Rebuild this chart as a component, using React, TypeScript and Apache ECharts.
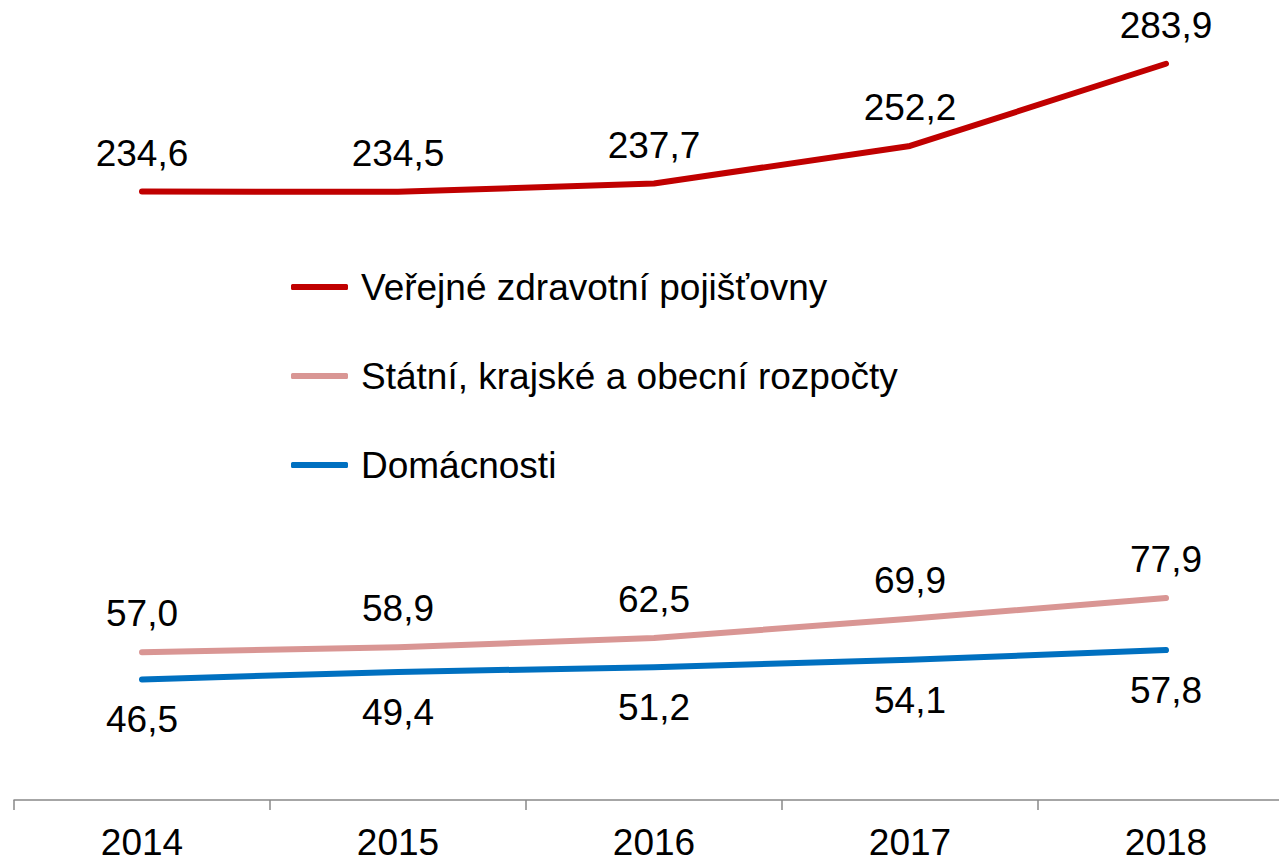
import React, { useEffect, useRef } from "react";
import * as echarts from "echarts";

const categories = ["2014", "2015", "2016", "2017", "2018"];
const seriesNames = [
  "Veřejné zdravotní pojišťovny",
  "Státní, krajské a obecní rozpočty",
  "Domácnosti",
];
const insurance = [234.6, 234.5, 237.7, 252.2, 283.9];
const budgets = [57.0, 58.9, 62.5, 69.9, 77.9];
const households = [46.5, 49.4, 51.2, 54.1, 57.8];
const colors = ["#C00000", "#D99694", "#0070C0"];

const FONT = "'Liberation Sans', Arial, Helvetica, sans-serif";
const FS = 37;
const fmt = (p: any) => Number(p.value).toFixed(1).replace(".", ",");

export default function App() {
  const ref = useRef<HTMLDivElement>(null);
  useEffect(() => {
    if (!ref.current) return;
    const chart = echarts.init(ref.current, undefined, { renderer: "svg" });
    const mkSeries = (name: string, data: number[], color: string, pos: string, dist: number) => ({
      name,
      type: "line",
      data,
      symbol: "circle",
      symbolSize: 0.1,
      showSymbol: true,
      lineStyle: { color, width: 6, cap: "round", join: "round" },
      itemStyle: { color },
      label: {
        show: true,
        position: pos,
        distance: dist,
        formatter: fmt,
        color: "#000",
        fontSize: FS,
        lineHeight: FS,
        fontFamily: FONT,
      },
      z: 3,
    });
    chart.setOption({
      animation: false,
      backgroundColor: "#fff",
      grid: { left: 14, right: 2, top: 22, bottom: 61, containLabel: false },
      legend: {
        orient: "vertical",
        left: 286,
        top: 262,
        itemWidth: 57,
        itemHeight: 6,
        itemGap: 49,
        icon: "roundRect",
        textStyle: { fontSize: FS, fontFamily: FONT, color: "#000", lineHeight: 40, padding: [0, 0, 0, 8] },
        data: seriesNames,
      },
      xAxis: {
        type: "category",
        data: categories,
        boundaryGap: true,
        axisLine: { show: true, lineStyle: { color: "#898989", width: 1.5 } },
        axisTick: { show: true, length: 10, lineStyle: { color: "#898989", width: 1.5 } },
        axisLabel: { color: "#000", fontSize: FS, lineHeight: 34, fontFamily: FONT, margin: 25 },
      },
      yAxis: {
        type: "value",
        min: 0,
        max: 300,
        show: false,
        splitLine: { show: false },
      },
      series: [
        mkSeries(seriesNames[0], insurance, colors[0], "top", 20),
        mkSeries(seriesNames[1], budgets, colors[1], "top", 20),
        mkSeries(seriesNames[2], households, colors[2], "bottom", 22),
      ],
    });
    return () => chart.dispose();
  }, []);
  return (
    <div style={{ position: "fixed", left: 0, top: 0, width: 1279, height: 861, overflow: "hidden" }}>
      <div ref={ref} style={{ width: 1296, height: 861 }} />
    </div>
  );
}
